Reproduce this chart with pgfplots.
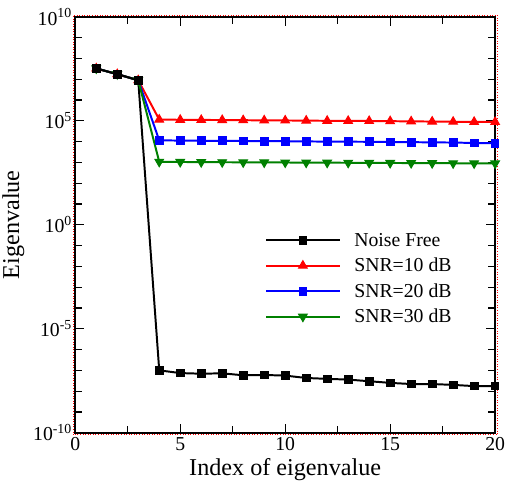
\documentclass[border=0pt]{standalone}
\usepackage{fontspec}
\setmainfont{Liberation Serif}
\usepackage{pgfplots}
\pgfplotsset{compat=1.18}
\definecolor{sgreen}{RGB}{0,128,0}
\begin{document}
\begin{tikzpicture}[x=1bp,y=1bp]
\begin{axis}[
  name=ax,
  scale only axis,
  width=424bp, height=420bp,
  ymode=log,
  xmin=0, xmax=20,
  ymin=1e-10, ymax=1e10,
  xtick={0,5,10,15,20},
  minor xtick={2.5,7.5,12.5,17.5},
  ytick={1e-10,1e-5,1,1e5,1e10},
  yticklabels={10\textsuperscript{-10},10\textsuperscript{-5},10\textsuperscript{0},10\textsuperscript{5},10\textsuperscript{10}},
  minor ytick={1e-9,1e-8,1e-7,1e-6,1e-4,1e-3,1e-2,1e-1,1e1,1e2,1e3,1e4,1e6,1e7,1e8,1e9},
  tick align=inside,
  major tick length=9bp,
  minor tick length=7bp,
  every tick/.style={black, line width=1.3pt},
  axis line style={line width=1.8pt},
  ticklabel style={font=\fontsize{20}{22}\selectfont},
  xticklabel style={yshift=-1bp},
  /pgf/number format/assume math mode=true,
  xlabel={Index of eigenvalue},
  ylabel={Eigenvalue},
  label style={font=\fontsize{24.5}{27}\selectfont},
  xlabel style={yshift=-1bp},
  ylabel style={yshift=2bp},
  legend style={draw=none, fill=none, font=\fontsize{20}{22}\selectfont, at={(0.445,0.49)}, anchor=north west, row sep=6.5bp},
  legend cell align=left,
  legend image code/.code={\draw[mark repeat=2,mark phase=2] plot coordinates {(0bp,0bp) (37bp,0bp) (74bp,0bp)}; \path (86bp,0bp);},
  clip=false,
]
\draw[red, dotted, line width=0.6pt] ([xshift=-2bp,yshift=-2bp]rel axis cs:0,0) rectangle ([xshift=2bp,yshift=2bp]rel axis cs:1,1);
\addplot[black, line width=2pt, mark=square*, mark size=3.9bp, mark options={line width=1pt}] coordinates {
(1,3.3e7)(2,1.75e7)(3,8.9e6)(4,1e-7)(5,7.4e-8)(6,6.9e-8)(7,7.2e-8)(8,5.8e-8)(9,6.0e-8)(10,5.6e-8)(11,4.3e-8)(12,3.9e-8)(13,3.6e-8)(14,3.0e-8)(15,2.5e-8)(16,2.2e-8)(17,2.2e-8)(18,2.0e-8)(19,1.75e-8)(20,1.75e-8)};
\addlegendentry{Noise Free}
\addplot[red, line width=2pt, mark=triangle*, mark size=5bp, mark options={line width=1pt}] coordinates {
(1,3.3e7)(2,1.75e7)(3,8.9e6)(4,1.15e5)(5,1.12e5)(6,1.1e5)(7,1.09e5)(8,1.07e5)(9,1.05e5)(10,1.04e5)(11,1.02e5)(12,1.0e5)(13,9.9e4)(14,9.8e4)(15,9.6e4)(16,9.4e4)(17,9.2e4)(18,9.0e4)(19,8.9e4)(20,8.8e4)};
\addlegendentry{SNR=10 dB}
\addplot[blue, line width=2pt, mark=square*, mark size=3.9bp, mark options={line width=1pt}] coordinates {
(1,3.3e7)(2,1.75e7)(3,8.9e6)(4,1.15e4)(5,1.12e4)(6,1.1e4)(7,1.09e4)(8,1.07e4)(9,1.05e4)(10,1.04e4)(11,1.02e4)(12,1.0e4)(13,9.9e3)(14,9.8e3)(15,9.6e3)(16,9.4e3)(17,9.2e3)(18,9.0e3)(19,8.6e3)(20,8.4e3)};
\addlegendentry{SNR=20 dB}
\addplot[sgreen, line width=2pt, mark=triangle*, mark options={rotate=180, line width=1pt}, mark size=5bp] coordinates {
(1,3.3e7)(2,1.75e7)(3,8.9e6)(4,1.07e3)(5,1.05e3)(6,1.03e3)(7,1.02e3)(8,1.01e3)(9,1.0e3)(10,9.9e2)(11,9.8e2)(12,9.7e2)(13,9.6e2)(14,9.5e2)(15,9.4e2)(16,9.3e2)(17,9.2e2)(18,9.1e2)(19,9.0e2)(20,8.9e2)};
\addlegendentry{SNR=30 dB}
\addplot[black, line width=2pt, mark=square*, mark size=3.9bp, mark options={line width=1pt}, forget plot] coordinates {(1,3.3e7)(2,1.75e7)(3,8.9e6)};
\end{axis}
\pgfresetboundingbox
\path ([xshift=-76bp,yshift=-58bp]ax.south west) rectangle ([xshift=13bp,yshift=17bp]ax.north east);
\end{tikzpicture}
\end{document}
